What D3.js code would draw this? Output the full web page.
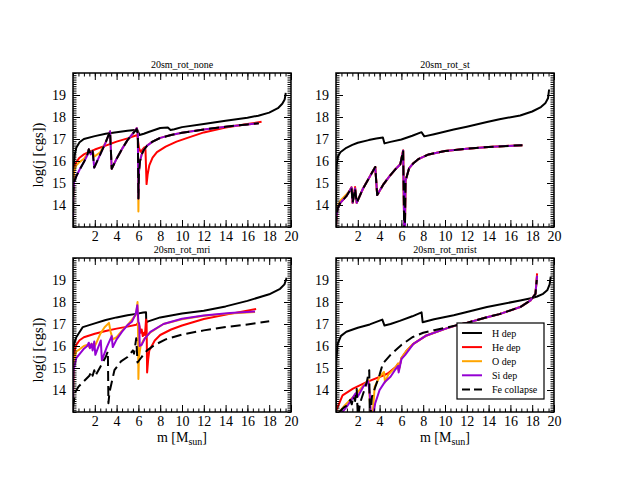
<!DOCTYPE html>
<html>
<head>
<meta charset="utf-8">
<script src="https://cdn.jsdelivr.net/npm/d3@7.9.0/dist/d3.min.js"></script>
<style>
  body { margin: 0; background: #fff; }
  svg { display: block; font-family: "Liberation Serif", "Times New Roman", serif; }
</style>
</head>
<body>
<svg id="chart" width="628" height="485"></svg>
<script>
// ---- data: [m (Msun), log j] ----
const panelTitles = ["20sm_rot_none", "20sm_rot_st", "20sm_rot_mri", "20sm_rot_mrist"];
const seriesNames = ["H dep", "He dep", "O dep", "Si dep", "Fe collapse"];
const xTickLabels = [2, 4, 6, 8, 10, 12, 14, 16, 18, 20];
const yTickLabels = [14, 15, 16, 17, 18, 19];

// 20sm_rot_none
const noneH = [[0,13.0],[0.02,15.0],[0.08,15.8],[0.15,16.25],[0.3,16.6],[0.6,16.85],[1,17.0],[2,17.13],[3,17.24],[4,17.31],[5,17.37],[5.9,17.42],[6.0,17.3],[6.1,17.18],[6.5,17.24],[7,17.33],[8,17.5],[8.7,17.52],[8.95,17.41],[9.3,17.44],[10,17.54],[12,17.68],[14,17.83],[16,17.97],[17,18.06],[18,18.2],[18.8,18.4],[19.2,18.6],[19.42,18.8],[19.52,19.1]];
const noneHe = [[0,14.2],[0.05,15.3],[0.15,15.7],[0.3,15.95],[0.6,16.15],[1,16.3],[1.5,16.42],[2,16.52],[3,16.7],[4,16.88],[5,17.03],[5.9,17.18],[6.05,16.6],[6.2,16.42],[6.35,16.5],[6.55,16.62],[6.65,16.5],[6.75,14.95],[6.85,15.4],[7.0,15.8],[7.3,16.15],[7.7,16.4],[8.5,16.65],[9.5,16.88],[10.5,17.05],[12,17.3],[14,17.52],[16,17.68],[17.3,17.78]];
const noneO = [[0,13.0],[0.02,15.0],[0.1,15.55],[0.3,15.8],[0.6,15.95],[1.0,16.1],[1.3,16.3],[1.45,16.53],[1.62,16.38],[1.8,16.45],[1.95,16.2],[2.5,16.4],[3.0,16.85],[3.4,17.35],[3.55,15.65],[4.0,16.1],[4.5,16.55],[5.0,16.95],[5.5,17.25],[5.85,17.5],[5.95,17.2],[6.0,13.7],[6.05,15.5],[6.15,16.0],[6.3,16.3],[6.5,16.5],[6.8,16.7],[7.3,16.88],[8,17.05],[9,17.18],[10,17.28],[12,17.43],[14,17.56],[16,17.66],[17.05,17.72]];
const noneSi = [[0,13.0],[0.02,14.6],[0.1,15.05],[0.3,15.3],[0.6,15.6],[1.0,15.95],[1.3,16.25],[1.45,16.53],[1.62,16.3],[1.8,16.45],[1.95,15.7],[2.5,16.3],[3.0,16.85],[3.4,17.35],[3.55,15.65],[4.0,16.1],[4.5,16.55],[5.0,16.95],[5.5,17.25],[5.85,17.5],[5.95,17.2],[6.0,14.3],[6.05,15.5],[6.15,16.0],[6.3,16.3],[6.5,16.5],[6.8,16.7],[7.3,16.88],[8,17.05],[9,17.18],[10,17.28],[12,17.43],[14,17.56],[16,17.66],[17.05,17.72]];
const noneFe = [[0,13.0],[0.02,14.6],[0.1,15.05],[0.3,15.3],[0.6,15.6],[1.0,15.95],[1.3,16.25],[1.45,16.53],[1.62,16.3],[1.8,16.45],[1.95,15.7],[2.5,16.3],[3.0,16.85],[3.4,17.35],[3.55,15.65],[4.0,16.1],[4.5,16.55],[5.0,16.95],[5.5,17.25],[5.85,17.45],[5.95,17.2],[6.0,14.3],[6.05,15.5],[6.15,16.0],[6.3,16.3],[6.5,16.5],[6.8,16.7],[7.3,16.88],[8,17.05],[9,17.18],[10,17.28],[12,17.43],[14,17.56],[16,17.66],[17.05,17.72]];

// 20sm_rot_st
const stH = [[0,13.0],[0.02,15.3],[0.06,15.8],[0.18,16.2],[0.4,16.4],[0.95,16.6],[1.5,16.73],[2,16.83],[3,16.95],[3.7,17.02],[4.3,17.07],[4.45,16.8],[5,16.87],[6,16.98],[7,17.15],[7.85,17.31],[8.1,17.12],[9,17.22],[10.8,17.43],[12,17.56],[13.85,17.77],[15,17.9],[16.9,18.07],[18,18.25],[18.8,18.45],[19.2,18.62],[19.45,18.85],[19.55,19.25]];
const stHe = [[0,13.0],[0.04,13.5],[0.15,13.85],[0.4,14.1],[0.95,14.4],[1.2,14.6],[1.42,14.8],[1.53,14.1],[1.75,14.82],[1.9,14.1],[2.48,14.75],[3.0,15.2],[3.6,15.73],[3.78,14.45],[4.3,14.9],[4.9,15.3],[5.5,15.65],[5.9,15.85],[6.16,16.48],[6.26,12.8],[6.32,12.8],[6.38,15.1],[6.7,15.66],[7.1,15.9],[7.6,16.1],[8.5,16.3],[10,16.45],[12,16.56],[14,16.64],[17.1,16.72]];
const stO = [[0,13.0],[0.04,13.6],[0.15,13.95],[0.4,14.2],[0.95,14.48],[1.2,14.62],[1.42,14.8],[1.53,14.1],[1.75,14.75],[1.9,14.1],[2.48,14.75],[3.0,15.2],[3.6,15.73],[3.78,14.45],[4.3,14.9],[4.9,15.3],[5.5,15.65],[5.9,15.85],[6.16,16.48],[6.26,12.8],[6.32,12.8],[6.38,15.1],[6.7,15.66],[7.1,15.9],[7.6,16.1],[8.5,16.3],[10,16.45],[12,16.56],[14,16.64],[17.1,16.72]];
const stSi = [[0,13.0],[0.04,13.5],[0.15,13.85],[0.4,14.1],[0.95,14.4],[1.2,14.6],[1.42,14.8],[1.53,14.1],[1.75,14.75],[1.9,14.1],[2.48,14.75],[3.0,15.2],[3.6,15.73],[3.78,14.45],[4.3,14.9],[4.9,15.3],[5.5,15.65],[5.9,15.85],[6.16,16.48],[6.26,12.8],[6.32,12.8],[6.38,15.1],[6.7,15.66],[7.1,15.9],[7.6,16.1],[8.5,16.3],[10,16.45],[12,16.56],[14,16.64],[17.1,16.72]];
const stFe = [[0,13.0],[0.04,13.5],[0.15,13.85],[0.4,14.1],[0.95,14.4],[1.2,14.6],[1.42,14.8],[1.53,14.1],[1.75,14.75],[1.9,14.1],[2.48,14.75],[3.0,15.2],[3.6,15.73],[3.78,14.45],[4.3,14.9],[4.9,15.3],[5.5,15.65],[5.9,15.85],[6.16,16.48],[6.26,12.8],[6.32,12.8],[6.38,15.1],[6.7,15.66],[7.1,15.9],[7.6,16.1],[8.5,16.3],[10,16.45],[12,16.56],[14,16.64],[17.1,16.72]];

// 20sm_rot_mri
const mriH = [[0,13.2],[0.03,15.8],[0.1,16.1],[0.3,16.4],[0.9,16.86],[2,17.03],[3,17.18],[4,17.3],[5,17.4],[5.8,17.46],[6.45,17.52],[6.7,17.53],[6.72,17.08],[6.9,17.12],[8,17.3],[10,17.48],[12,17.6],[14,17.8],[16,18.05],[18,18.35],[19,18.6],[19.4,18.8],[19.6,19.1]];
const mriHe = [[0,13.8],[0.05,15.2],[0.15,15.8],[0.3,16.05],[0.6,16.26],[1,16.4],[2,16.56],[3,16.68],[4,16.79],[5,16.88],[5.8,16.97],[6.0,17.05],[6.1,16.9],[6.2,16.6],[6.3,16.75],[6.4,16.45],[6.5,16.6],[6.6,16.5],[6.7,17.2],[6.75,17.1],[6.8,14.8],[6.9,15.4],[7.0,15.8],[7.5,16.25],[8,16.5],[9,16.75],[10,16.93],[12,17.23],[14.4,17.46],[16.8,17.68]];
const mriO = [[0,13.0],[0.03,15.0],[0.15,15.5],[0.3,15.75],[0.6,15.85],[1,16.0],[1.3,16.05],[1.5,15.95],[1.7,16.1],[1.9,15.9],[2.1,16.1],[2.5,16.55],[2.9,16.85],[3.3,17.05],[3.45,16.65],[3.65,16.3],[4.0,16.4],[4.5,16.7],[5.0,16.95],[5.5,17.25],[5.8,17.45],[5.92,18.0],[5.97,16.5],[6.0,14.5],[6.05,15.5],[6.2,16.0],[6.5,16.3],[7.1,16.62],[8.3,17.0],[10,17.22],[12,17.37],[14.4,17.48],[16.7,17.55]];
const mriSi = [[0,13.0],[0.02,14.5],[0.05,14.9],[0.3,15.45],[0.95,15.85],[1.3,16.0],[1.45,16.15],[1.55,15.9],[1.7,16.1],[1.8,15.8],[1.95,16.2],[2.05,15.6],[2.55,16.25],[2.65,15.35],[3.1,15.95],[3.55,16.45],[3.65,15.95],[4.0,16.3],[4.5,16.65],[5.0,16.95],[5.4,17.1],[5.75,17.45],[5.9,17.85],[6.0,17.1],[6.08,17.0],[6.12,16.0],[6.3,16.05],[6.6,16.35],[7.1,16.64],[8.3,17.0],[10,17.24],[12,17.39],[14.4,17.5],[16.7,17.57]];
const mriFe = [[0,13.2],[0.2,13.9],[0.5,14.15],[1,14.4],[1.5,14.65],[1.7,14.85],[1.8,14.65],[1.95,14.9],[2.05,14.65],[2.5,15.05],[3.0,15.5],[3.2,15.75],[3.25,13.4],[3.35,13.9],[3.8,14.9],[4.4,15.3],[5.0,15.5],[5.5,15.8],[5.6,15.65],[5.8,16.35],[5.92,15.25],[6.3,15.5],[6.8,15.8],[7.5,16.05],[8.5,16.3],[10,16.52],[12,16.71],[14,16.86],[16,16.98],[18,17.12]];

// 20sm_rot_mrist
const mristH = [[0,13.0],[0.02,15.3],[0.15,16.1],[0.46,16.46],[0.95,16.65],[2,16.83],[3.1,16.98],[4.25,17.2],[4.45,16.93],[5,17.0],[5.85,17.14],[7,17.35],[7.85,17.53],[7.95,17.08],[9,17.22],[10.8,17.4],[13.85,17.77],[16.9,18.07],[18,18.18],[18.45,18.25],[19,18.37],[19.4,18.55],[19.6,18.8],[19.7,19.15]];
const mristHe = [[0,13.0],[0.05,13.1],[0.6,13.76],[1.56,14.06],[2.8,14.36],[4.33,14.66],[4.75,14.75],[5.5,15.05],[5.7,15.2],[5.75,14.9],[6.0,15.45],[6.5,15.8],[7.1,16.1],[8.3,16.48],[10,16.78],[11.1,16.95],[12,17.05],[13.85,17.31],[15,17.45],[16.9,17.77],[17.85,18.07],[18.3,18.37],[18.45,19.3]];
const mristO = [[0.3,13.0],[0.8,13.3],[1.5,13.65],[2.0,13.9],[2.5,14.2],[3.0,14.45],[3.1,13.5],[3.2,12.8],[3.35,12.8],[3.55,14.15],[4.0,14.6],[4.4,14.82],[4.5,14.35],[4.8,14.7],[5.5,15.05],[5.7,15.2],[5.75,14.9],[6.0,15.45],[6.5,15.8],[7.1,16.1],[8.3,16.48],[10,16.78],[11.1,16.95],[12,17.05],[13.85,17.31],[15,17.45],[16.9,17.77],[17.85,18.07],[18.3,18.37],[18.45,19.2]];
const mristSi = [[0.6,13.0],[1.0,13.25],[1.5,13.62],[1.8,13.85],[2.0,13.7],[2.5,14.15],[2.95,14.4],[3.1,13.8],[3.2,12.8],[3.4,12.8],[3.6,13.4],[4.0,14.0],[4.5,14.38],[5.0,14.6],[5.4,14.9],[5.7,15.1],[5.75,14.8],[6.0,15.4],[6.35,15.6],[7.1,16.1],[8.3,16.48],[10,16.78],[11.1,16.95],[12,17.05],[13.85,17.31],[15,17.45],[16.9,17.77],[17.85,18.07],[18.3,18.37],[18.45,19.2]];
const mristFe = [[0.3,13.0],[0.7,13.2],[1.0,13.3],[1.3,13.55],[1.45,13.35],[1.6,13.7],[1.75,13.5],[1.9,14.05],[2.0,12.8],[2.05,12.8],[2.2,13.4],[2.8,14.3],[3.05,14.9],[3.1,12.8],[3.15,12.8],[3.3,13.7],[4.0,14.7],[4.3,15.2],[5.0,15.6],[6.0,16.05],[7.0,16.4],[8.0,16.6],[9.0,16.72],[10,16.82],[11.1,16.95],[12,17.05],[13.85,17.31],[15,17.45],[16.9,17.77],[17.85,18.07],[18.3,18.37],[18.42,19.0]];

// ---- drawing ----
const colors = ["#000000", "#ff0000", "#ffa500", "#9400d3", "#000000"];
const dashes = [null, null, null, null, "10,5"];
const serif = "Liberation Serif, Times New Roman, serif";

const svg = d3.select("#chart");
const W = 218, H = 154;

const panels = [
  { title: panelTitles[0], x0: 73,  y0: 73,  data: [noneH, noneHe, noneO, noneSi, noneFe], left: true,  bottom: false },
  { title: panelTitles[1], x0: 336, y0: 73,  data: [stH, stHe, stO, stSi, stFe],           left: false, bottom: false },
  { title: panelTitles[2], x0: 73,  y0: 258, data: [mriH, mriHe, mriO, mriSi, mriFe],      left: true,  bottom: true },
  { title: panelTitles[3], x0: 336, y0: 258, data: [mristH, mristHe, mristO, mristSi, mristFe], left: false, bottom: true, legend: true }
];

const x = d3.scaleLinear().domain([0, 20]).range([0, W]);
const y = d3.scaleLinear().domain([13, 20]).range([H, 0]);
const line = d3.line().x(d => x(d[0])).y(d => y(d[1]));

function styleAxis(g) {
  g.attr("font-family", serif).attr("font-size", 14);
  g.select(".domain").remove();
  g.selectAll(".tick line").attr("stroke", "#000").attr("stroke-width", 1);
  g.selectAll(".tick text").attr("fill", "#000");
}

panels.forEach((p, pi) => {
  const g = svg.append("g").attr("transform", `translate(${p.x0},${p.y0})`);

  g.append("clipPath").attr("id", "clip" + pi)
    .append("rect").attr("width", W).attr("height", H);

  // series
  const lines = g.append("g").attr("clip-path", `url(#clip${pi})`);
  p.data.forEach((s, i) => {
    lines.append("path")
      .datum(s)
      .attr("d", line)
      .attr("fill", "none")
      .attr("stroke", colors[i])
      .attr("stroke-width", 2)
      .attr("stroke-dasharray", dashes[i])
      .attr("stroke-linejoin", "round");
  });

  // ticks, all pointing inward, on all four sides
  const xMinor = d3.range(0, 20.001, 0.5);
  const yMinor = d3.range(13, 20.001, 0.1);
  g.append("g").attr("transform", `translate(0,${H})`)
    .call(d3.axisBottom(x).tickValues(xMinor).tickSize(-3.5).tickFormat("")).call(styleAxis);
  g.append("g").attr("transform", `translate(0,${H})`)
    .call(d3.axisBottom(x).tickValues(xTickLabels).tickSize(-7).tickPadding(4).tickFormat(d3.format("d")))
    .call(styleAxis);
  g.append("g")
    .call(d3.axisTop(x).tickValues(xMinor).tickSize(-3.5).tickFormat("")).call(styleAxis);
  g.append("g")
    .call(d3.axisTop(x).tickValues(xTickLabels).tickSize(-7).tickFormat("")).call(styleAxis);

  g.append("g")
    .call(d3.axisLeft(y).tickValues(yMinor).tickSize(-3.5).tickFormat("")).call(styleAxis);
  g.append("g")
    .call(d3.axisLeft(y).tickValues(yTickLabels).tickSize(-7).tickPadding(7).tickFormat(d3.format("d")))
    .call(styleAxis);
  g.append("g").attr("transform", `translate(${W},0)`)
    .call(d3.axisRight(y).tickValues(yMinor).tickSize(-3.5).tickFormat("")).call(styleAxis);
  g.append("g").attr("transform", `translate(${W},0)`)
    .call(d3.axisRight(y).tickValues(yTickLabels).tickSize(-7).tickFormat("")).call(styleAxis);

  // frame
  g.append("rect").attr("width", W).attr("height", H)
    .attr("fill", "none").attr("stroke", "#000").attr("stroke-width", 1.5);

  // title
  g.append("text")
    .attr("x", W / 2).attr("y", -5)
    .attr("text-anchor", "middle").attr("font-size", 10)
    .text(p.title);

  if (p.left) {
    g.append("text")
      .attr("transform", `translate(-30,${H / 2 + (p.bottom ? 15 : 5)}) rotate(-90)`)
      .attr("text-anchor", "middle").attr("font-size", 14.5)
      .text("log(j [cgs])");
  }
  if (p.bottom) {
    const t = g.append("text")
      .attr("x", W / 2).attr("y", H + 30)
      .attr("text-anchor", "middle").attr("font-size", 14);
    t.append("tspan").text("m [M");
    t.append("tspan").attr("font-size", 10).attr("dy", 3).text("sun");
    t.append("tspan").attr("dy", -3).text("]");
  }

  if (p.legend) {
    const lg = g.append("g").attr("transform", "translate(121,65)");
    lg.append("rect").attr("width", 87).attr("height", 76)
      .attr("fill", "#fff").attr("stroke", "#000").attr("stroke-width", 1.2);
    seriesNames.forEach((name, i) => {
      const ry = 10 + i * 14.1;
      lg.append("line")
        .attr("x1", 5).attr("x2", 25).attr("y1", ry).attr("y2", ry)
        .attr("stroke", colors[i]).attr("stroke-width", 2)
        .attr("stroke-dasharray", dashes[i] ? "8,4" : null);
      lg.append("text")
        .attr("x", 35).attr("y", ry + 3.5)
        .attr("font-size", 10)
        .text(name);
    });
  }
});
</script>
</body>
</html>
